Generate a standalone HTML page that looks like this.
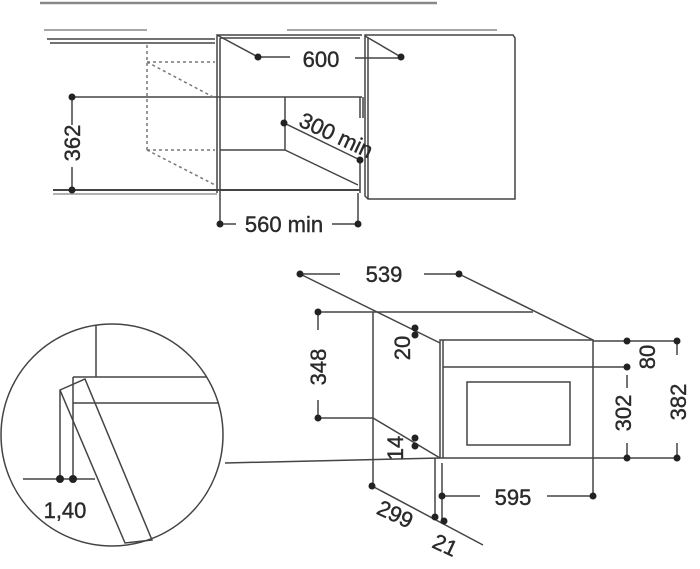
<!DOCTYPE html>
<html><head><meta charset="utf-8"><style>
html,body{margin:0;padding:0;background:#fff}
svg{display:block}
text{font-family:"Liberation Sans",sans-serif;font-size:22px;fill:#2a2a2a;stroke:#2a2a2a;stroke-width:0.4}
</style></head><body>
<svg width="700" height="569" viewBox="0 0 700 569" xmlns="http://www.w3.org/2000/svg">
<g stroke="#444" stroke-width="1.5" fill="none">
<line x1="40" y1="3" x2="437" y2="3" stroke-width="2.5" stroke="#888"/>
<line x1="44" y1="30" x2="147" y2="30" stroke="#888"/>
<line x1="287" y1="30" x2="497" y2="30" stroke="#888"/>
<line x1="47" y1="39" x2="215" y2="39"/>
<line x1="50" y1="43" x2="215" y2="43"/>
<polyline points="217,193 217,35 362,35"/>
<line x1="220" y1="38" x2="220" y2="193"/>
<line x1="220" y1="38" x2="360" y2="38"/>
<polygon points="365,35 513,35 515,38 515,199 368,199 365,196"/>
<line x1="368" y1="38" x2="368" y2="199"/>
<line x1="217" y1="35" x2="258" y2="57"/>
<line x1="258" y1="57" x2="290" y2="57"/>
<line x1="355" y1="58" x2="401" y2="58"/>
<line x1="365" y1="36" x2="401" y2="57"/>
<line x1="72" y1="97" x2="362" y2="97"/>
<line x1="360" y1="97" x2="360" y2="118"/><line x1="363" y1="97" x2="363" y2="118"/>
<line x1="285" y1="97" x2="285" y2="150"/>
<line x1="220" y1="150" x2="285" y2="150"/>
<line x1="285" y1="150" x2="358" y2="185"/>
<line x1="284" y1="123" x2="360" y2="160"/>
<line x1="360" y1="160" x2="360" y2="193"/>
<line x1="53" y1="190" x2="360" y2="190" stroke-width="2"/>
<line x1="53" y1="194" x2="217" y2="194" stroke="#999"/>
<line x1="72" y1="97" x2="72" y2="125"/><line x1="72" y1="167" x2="72" y2="190"/>
<g stroke-dasharray="3,3" stroke="#777">
<line x1="147" y1="45" x2="147" y2="150"/>
<line x1="147" y1="62" x2="215" y2="62"/>
<line x1="147" y1="62" x2="215" y2="98"/>
<line x1="147" y1="150" x2="215" y2="150"/>
<line x1="147" y1="150" x2="215" y2="185"/>
</g>
<line x1="220" y1="193" x2="220" y2="224"/>
<line x1="358" y1="193" x2="358" y2="224"/>
<line x1="220" y1="224" x2="236" y2="224"/>
<line x1="332" y1="224" x2="358" y2="224"/>
<line x1="300" y1="274" x2="340" y2="274"/>
<line x1="424" y1="274" x2="459" y2="274"/>
<line x1="300" y1="274" x2="440" y2="343"/>
<line x1="459" y1="274" x2="593" y2="340"/>
<line x1="318" y1="312" x2="533" y2="312"/>
<line x1="373" y1="312" x2="373" y2="486"/>
<line x1="373" y1="418" x2="440" y2="458"/>
<line x1="318" y1="418" x2="373" y2="418"/>
<line x1="318" y1="312" x2="318" y2="330"/><line x1="318" y1="400" x2="318" y2="418"/>
<rect x="440" y="340" width="153" height="118"/>
<line x1="443" y1="340" x2="443" y2="458"/>
<line x1="443" y1="367" x2="627" y2="367"/>
<rect x="467" y="382" width="103" height="63"/>
<line x1="593" y1="341" x2="677" y2="341"/>
<line x1="593" y1="458" x2="677" y2="458"/>
<line x1="627" y1="375" x2="627" y2="388"/><line x1="627" y1="443" x2="627" y2="458"/>
<line x1="677" y1="341" x2="677" y2="355"/><line x1="677" y1="443" x2="677" y2="458"/>
<line x1="225" y1="463" x2="440" y2="458"/>
<line x1="435" y1="458" x2="435" y2="517"/>
<line x1="442" y1="463" x2="442" y2="522"/>
<line x1="442" y1="496" x2="480" y2="496"/>
<line x1="547" y1="496" x2="593" y2="496"/>
<line x1="593" y1="458" x2="593" y2="496"/>
<line x1="372" y1="486" x2="483" y2="545"/>
<circle cx="112" cy="435" r="111"/>
<line x1="96" y1="325" x2="96" y2="377"/>
<line x1="73" y1="377" x2="207" y2="377"/>
<line x1="73" y1="403" x2="219" y2="403"/>
<line x1="73" y1="377" x2="73" y2="480"/>
<polygon points="60,390 85,379 152,540 125,543"/>
<line x1="60" y1="390" x2="60" y2="480"/>
<line x1="23" y1="479" x2="95" y2="479"/>
</g>
<g fill="#222">
<circle cx="258" cy="57" r="3.5"/><circle cx="401" cy="57" r="3.5"/>
<circle cx="72" cy="97" r="3.5"/><circle cx="72" cy="190" r="3.5"/>
<circle cx="284" cy="123" r="3.5"/><circle cx="360" cy="160" r="3.5"/>
<circle cx="220" cy="224" r="3.5"/><circle cx="358" cy="224" r="3.5"/>
<circle cx="300" cy="274" r="3.5"/><circle cx="459" cy="274" r="3.5"/>
<circle cx="318" cy="312" r="3.5"/><circle cx="318" cy="418" r="3.5"/>
<circle cx="415" cy="328" r="3.5"/><circle cx="415" cy="335" r="3.5"/>
<circle cx="415" cy="438" r="3.5"/><circle cx="415" cy="446" r="3.5"/>
<circle cx="627" cy="341" r="3.5"/><circle cx="627" cy="367" r="3.5"/><circle cx="627" cy="458" r="3.5"/>
<circle cx="677" cy="341" r="3.5"/><circle cx="677" cy="458" r="3.5"/>
<circle cx="442" cy="496" r="3.5"/><circle cx="593" cy="496" r="3.5"/>
<circle cx="372" cy="486" r="3.5"/><circle cx="435" cy="517" r="3.5"/><circle cx="444" cy="521" r="3.5"/>
<circle cx="60" cy="479" r="4"/><circle cx="73" cy="479" r="4"/>
</g>
<text x="321" y="67" text-anchor="middle">600</text>
<text transform="translate(80,143) rotate(-90)" text-anchor="middle">362</text>
<text transform="translate(333,142) rotate(25)" text-anchor="middle">300 min</text>
<text x="284" y="232" text-anchor="middle">560 min</text>
<text x="384" y="282" text-anchor="middle">539</text>
<text transform="translate(326,367) rotate(-90)" text-anchor="middle">348</text>
<text transform="translate(410,348) rotate(-90)" text-anchor="middle">20</text>
<text transform="translate(403,448) rotate(-90)" text-anchor="middle">14</text>
<text transform="translate(655,357) rotate(-90)" text-anchor="middle">80</text>
<text transform="translate(631,413) rotate(-90)" text-anchor="middle">302</text>
<text transform="translate(686,402) rotate(-90)" text-anchor="middle">382</text>
<text x="513" y="505" text-anchor="middle">595</text>
<text transform="translate(392,521) rotate(25)" text-anchor="middle">299</text>
<text transform="translate(442,552) rotate(25)" text-anchor="middle">21</text>
<text x="65" y="518" text-anchor="middle">1,40</text>
</svg>
</body></html>
